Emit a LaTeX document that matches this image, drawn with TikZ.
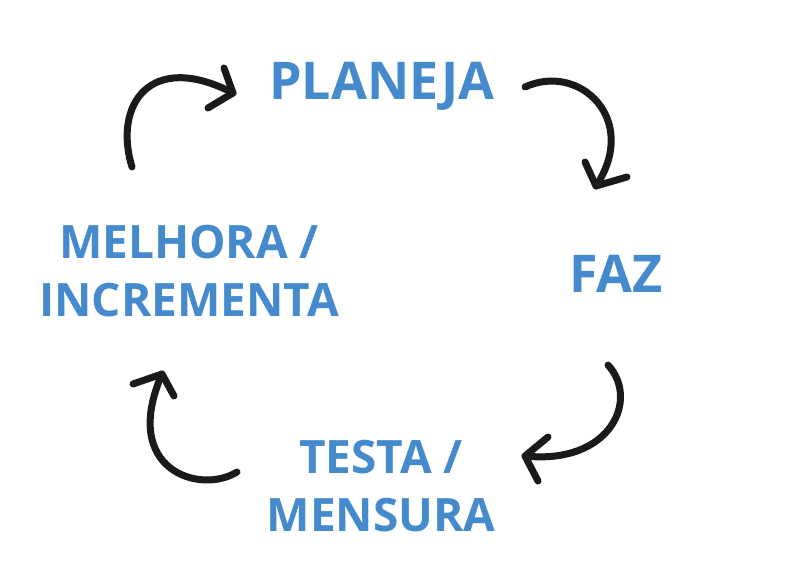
\documentclass[tikz,border=0pt]{standalone}
\usepackage{fontspec}
\setmainfont{Open Sans}
\definecolor{txtblue}{RGB}{68,138,204}
\definecolor{ink}{RGB}{26,26,26}
\tikzset{
  lbl/.style={text=txtblue, font=\fontsize{52}{60}\selectfont\bfseries, align=center, inner sep=0pt},
  lblsmall/.style={text=txtblue, font=\fontsize{46}{58}\selectfont\bfseries, align=center, inner sep=0pt},
  curvearrow/.style={draw=ink, line width=7pt, line cap=round, line join=round}
}
\begin{document}
\begin{tikzpicture}[x=1pt,y=-1pt]
\useasboundingbox[fill=white] (0,0) rectangle (810,572);
\node[lbl] (planeja) at (382,86) {PLANEJA};
\node[lbl] (faz) at (616,274) {FAZ};
\node[lblsmall] (melhora) at (189,271) {MELHORA /\\INCREMENTA};
\node[lblsmall] (testa) at (381,486) {TESTA /\\MENSURA};
% arrow 1
\coordinate (a1s) at (132,167);
\coordinate (a1t) at (233,93);
\draw[curvearrow] (a1s) .. controls (113,105) and (150,50) .. (a1t);
\draw[curvearrow] (224,68) -- (a1t) -- (208,108);
% arrow 2
\coordinate (a2s) at (525,87);
\coordinate (a2t) at (596,186);
\draw[curvearrow] (a2s) .. controls (580,62) and (640,120) .. (a2t);
\draw[curvearrow] (585,162) -- (a2t) -- (627,177);
% arrow 3
\coordinate (a3s) at (608,365);
\coordinate (a3t) at (525,456);
\draw[curvearrow] (a3s) .. controls (640,400) and (610,465) .. (a3t);
\draw[curvearrow] (548,437) -- (a3t) -- (538,481);
% arrow 4
\coordinate (a4s) at (237,472);
\coordinate (a4t) at (162,374);
\draw[curvearrow] (a4s) .. controls (200,495) and (120,470) .. (a4t);
\draw[curvearrow] (133,384) -- (a4t) -- (174,396);
\end{tikzpicture}
\end{document}
